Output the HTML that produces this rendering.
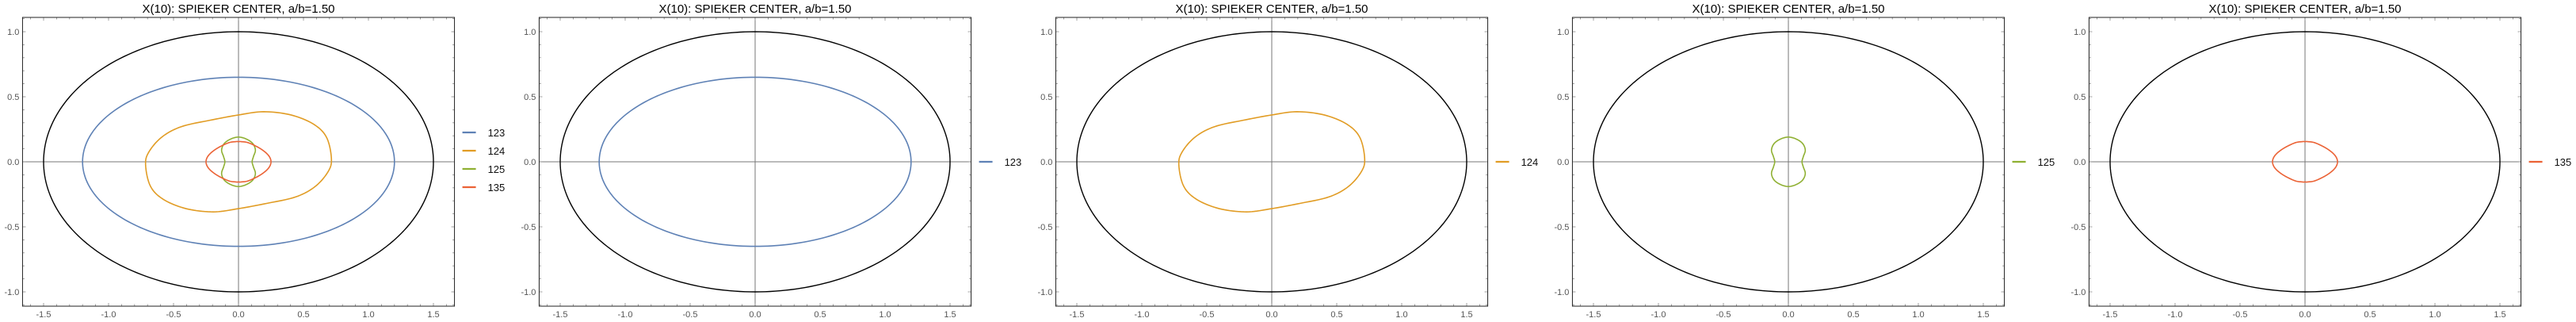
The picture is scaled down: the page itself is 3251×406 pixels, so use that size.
<!DOCTYPE html>
<html><head><meta charset="utf-8"><style>
html,body{margin:0;padding:0;background:#fff;}
svg{display:block;font-family:"Liberation Sans",sans-serif;}
</style></head><body>
<svg id="chart" width="3251" height="406" viewBox="0 0 3251 406" xmlns="http://www.w3.org/2000/svg"></svg>
<script>
// ---- data ----
const panelSeries = [["123","124","125","135"],["123"],["124"],["125"],["135"]];
const seriesColors = {"123":"#5E81B5","124":"#E19C24","125":"#8FB032","135":"#EB6235"};
// outer ellipse semi-axes
const outerAxes = [1.5, 1.0];
// 123: ellipse semi-axes
const s123Axes = [1.2, 0.65];
// 124: upper half points (x,y); lower half = central reflection
const s124X = [0.715,0.678,0.578,0.404,0.194,0.0,-0.216,-0.44,-0.59,-0.69];
const s124Y = [0.024,0.187,0.289,0.36,0.385,0.36,0.32,0.27,0.19,0.075];
// 125: first-quadrant points, mirrored on both axes
const s125X = [0.105,0.115,0.13,0.11,0.06,0.0];
const s125Y = [0.0,0.04,0.09,0.14,0.175,0.19];
// 135: first-quadrant points, mirrored on both axes
const s135X = [0.25,0.23,0.17,0.08,0.02,0.0];
const s135Y = [0.0,0.05,0.1,0.145,0.155,0.155];
const xTicks = [-1.5,-1.0,-0.5,0.0,0.5,1.0,1.5];
const yTicks = [-1.0,-0.5,0.0,0.5,1.0];
const titleText = "X(10): SPIEKER CENTER, a/b=1.50";

// ---- layout ----
const svg = document.getElementById('chart');
const NS = "http://www.w3.org/2000/svg";
const UNIT = 164, Y0 = 204, XMIN = -1.662, XMAX = 1.662, YMIN = -1.11, YMAX = 1.11;
const panelX0 = [301, 953, 1605, 2257, 2909];

function mk(tag, attrs, parent){const e=document.createElementNS(NS,tag);for(const k in attrs)e.setAttribute(k,attrs[k]);(parent||svg).appendChild(e);return e;}

function ellipsePts(a,b){const p=[];for(let i=0;i<=240;i++){const t=i/240*2*Math.PI;p.push([a*Math.cos(t),b*Math.sin(t)]);}return p;}
function closedSmooth(pts){ // catmull-rom closed
  const out=[];const n=pts.length;
  for(let i=0;i<n;i++){const p0=pts[(i-1+n)%n],p1=pts[i],p2=pts[(i+1)%n],p3=pts[(i+2)%n];
    for(let s=0;s<10;s++){const t=s/10,t2=t*t,t3=t2*t;
      const f=(a,b,c,d)=>0.5*((2*b)+(-a+c)*t+(2*a-5*b+4*c-d)*t2+(-a+3*b-3*c+d)*t3);
      out.push([f(p0[0],p1[0],p2[0],p3[0]),f(p0[1],p1[1],p2[1],p3[1])]);}}
  out.push(out[0]);return out;}
function central(xs,ys){const up=xs.map((x,i)=>[x,ys[i]]);const lo=up.map(p=>[-p[0],-p[1]]);return closedSmooth(up.concat(lo));}
function quad(xs,ys){const q=xs.map((x,i)=>[x,ys[i]]);const pts=[];
  q.forEach(p=>pts.push([p[0],p[1]]));
  q.slice(0,-1).reverse().forEach(p=>pts.push([-p[0],p[1]]));
  q.slice(1).forEach(p=>pts.push([-p[0],-p[1]]));
  q.slice(1,-1).reverse().forEach(p=>pts.push([p[0],-p[1]]));
  return closedSmooth(pts);}
function seriesPts(name){
  if(name==="123")return ellipsePts(s123Axes[0],s123Axes[1]);
  if(name==="124")return central(s124X,s124Y);
  if(name==="125")return quad(s125X,s125Y);
  return quad(s135X,s135Y);}

panelSeries.forEach((series,pi)=>{
  const x0=panelX0[pi];
  const sx=v=>x0+v*UNIT, sy=v=>Y0-v*UNIT;
  const g=mk('g',{});
  
  
  const L=sx(XMIN),R=sx(XMAX),T=sy(YMAX),B=sy(YMIN);
  const t=mk('text',{x:(L+R)/2,y:16,'text-anchor':'middle','font-size':'15',fill:'#000'},g);
  t.textContent=titleText;
  
  
  const ax=mk('line',{x1:L,x2:R,y1:sy(0),y2:sy(0),stroke:'#777','stroke-width':1},g);
  
  
  const ay=mk('line',{x1:sx(0),x2:sx(0),y1:T,y2:B,stroke:'#777','stroke-width':1},g);
  
  
  for(let k=-16;k<=16;k++){const v=k/10;const major=k%5===0;const len=major?4:2.5;
    const X=sx(v);mk('line',{x1:X,x2:X,y1:B,y2:B-len,stroke:'#888','stroke-width':0.8},g);
    mk('line',{x1:X,x2:X,y1:T,y2:T+len,stroke:'#888','stroke-width':0.8},g);}
  for(let k=-11;k<=11;k++){const v=k/10;const major=k%5===0;const len=major?4:2.5;
    const Y=sy(v);mk('line',{x1:L,x2:L+len,y1:Y,y2:Y,stroke:'#888','stroke-width':0.8},g);
    mk('line',{x1:R,x2:R-len,y1:Y,y2:Y,stroke:'#888','stroke-width':0.8},g);}
  xTicks.forEach(v=>{const e=mk('text',{x:sx(v),y:400,'text-anchor':'middle','font-size':'11',fill:'#555'},g);
    e.textContent=v.toFixed(1);
    
    });
  yTicks.forEach(v=>{const e=mk('text',{x:L-4,y:sy(v)+4,'text-anchor':'end','font-size':'11',fill:'#555'},g);
    e.textContent=v.toFixed(1);
    
    });
  const toD=pts=>pts.map((p,i)=>(i?'L':'M')+sx(p[0]).toFixed(2)+','+sy(p[1]).toFixed(2)).join('')+'Z';
  const oe=mk('path',{d:toD(ellipsePts(outerAxes[0],outerAxes[1])),fill:'none',stroke:'#000','stroke-width':1.4},g);
  
  
  series.forEach(s=>{const p=mk('path',{d:toD(seriesPts(s)),fill:'none',stroke:seriesColors[s],'stroke-width':1.6},g);
    
    });
  const fr=mk('rect',{x:L,y:T,width:R-L,height:B-T,fill:'none',stroke:'#222','stroke-width':1},g);
  
  
  const n=series.length;
  series.forEach((s,i)=>{const yy=n>1?167+i*23:204;
    const le=mk('g',{},g);
    
    
    mk('line',{x1:R+10,x2:R+27,y1:yy,y2:yy,stroke:seriesColors[s],'stroke-width':2.2},le);
    const tx=mk('text',{x:R+42,y:yy+5,'font-size':'13',fill:'#111'},le);
    tx.textContent=s;});
});
</script>
</body></html>
